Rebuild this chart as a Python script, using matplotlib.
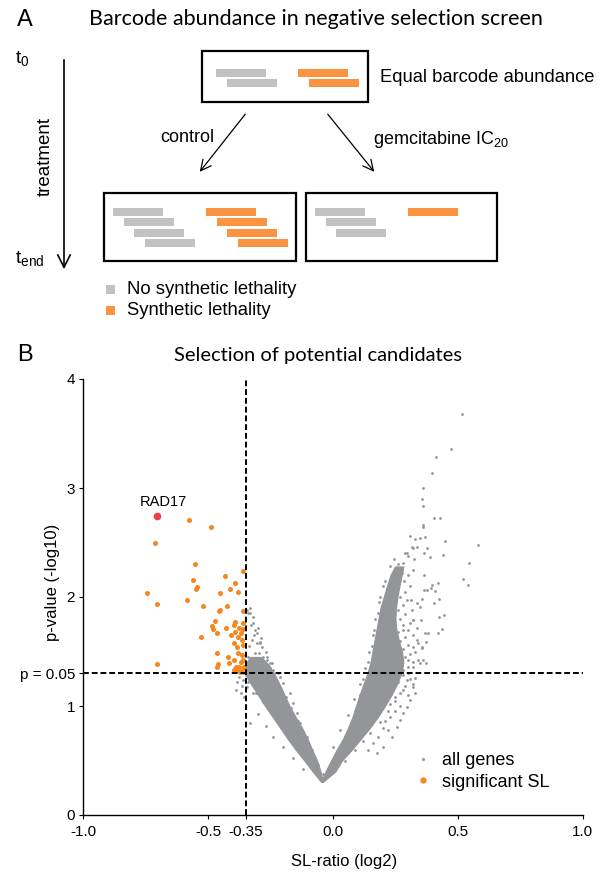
import math
import matplotlib
matplotlib.use('Agg')
import matplotlib.pyplot as plt
from matplotlib.patches import Rectangle, FancyArrowPatch
from matplotlib.lines import Line2D

plt.rcParams['font.family'] = ['Liberation Sans', 'DejaVu Sans']
plt.rcParams['mathtext.default'] = 'regular'

# ---------------- Panel A data (barcode copies per group) ----------------
groups = ['t0', 'control', 'gemcitabine']
no_sl_counts = [2, 4, 3]
sl_counts = [2, 4, 1]
legend_labels_a = ['No synthetic lethality', 'Synthetic lethality']

# ---------------- Panel B data ----------------
sl_threshold = -0.35
p_threshold = 0.05
xticks = [-1.0, -0.5, -0.35, 0.0, 0.5, 1.0]
xtick_labels = ['-1.0', '-0.5', '-0.35', '0.0', '0.5', '1.0']
yticks = [0, 1, 2, 3, 4]

rad17_x = [-0.704]
rad17_y = [2.740]

sl_x = [-0.578, -0.489, -0.714, -0.553, -0.359, -0.433, -0.562, -0.394, -0.543, -0.549,
        -0.411, -0.379, -0.454, -0.744, -0.585, -0.704, -0.521, -0.423, -0.453, -0.457,
        -0.359, -0.473, -0.392, -0.359, -0.486, -0.479, -0.465, -0.398, -0.378, -0.394,
        -0.361, -0.428, -0.529, -0.409, -0.382, -0.369, -0.363, -0.398, -0.384, -0.361,
        -0.465, -0.382, -0.422, -0.363, -0.398, -0.705, -0.459, -0.465, -0.418, -0.369,
        -0.359, -0.388, -0.375, -0.398, -0.384, -0.363, -0.358, -0.373]
sl_y = [2.709, 2.639, 2.498, 2.306, 2.238, 2.193, 2.153, 2.125, 2.092, 2.073,
        2.073, 2.046, 2.040, 2.037, 1.970, 1.933, 1.920, 1.914, 1.884, 1.871,
        1.874, 1.780, 1.774, 1.765, 1.737, 1.703, 1.667, 1.743, 1.712, 1.682,
        1.709, 1.712, 1.636, 1.651, 1.636, 1.667, 1.606, 1.575, 1.539, 1.560,
        1.483, 1.483, 1.453, 1.468, 1.422, 1.385, 1.385, 1.361, 1.391, 1.407,
        1.422, 1.361, 1.361, 1.330, 1.330, 1.330, 1.361, 1.315]

# dense core of the gene cloud (envelope of the two arms)
left_core_y = [0.305, 0.40, 0.50, 0.60, 0.70, 0.80, 0.90, 1.00, 1.10, 1.20, 1.30, 1.38, 1.45]
left_core_xmin = [-0.048, -0.082, -0.115, -0.150, -0.182, -0.212, -0.242, -0.272, -0.300, -0.328, -0.355, -0.352, -0.332]
left_core_xmax = [-0.040, -0.050, -0.064, -0.084, -0.102, -0.124, -0.150, -0.174, -0.194, -0.214, -0.236, -0.258, -0.288]

right_core_y = [0.305, 0.40, 0.50, 0.60, 0.70, 0.80, 0.90, 1.00, 1.10, 1.20, 1.30, 1.40, 1.50,
                1.60, 1.70, 1.80, 1.90, 2.00, 2.10, 2.20, 2.28]
right_core_xmin = [-0.048, -0.030, -0.008, 0.015, 0.040, 0.060, 0.078, 0.092, 0.106, 0.122, 0.138,
                   0.150, 0.158, 0.166, 0.174, 0.182, 0.190, 0.203, 0.216, 0.230, 0.248]
right_core_xmax = [-0.040, 0.010, 0.036, 0.076, 0.112, 0.148, 0.180, 0.208, 0.234, 0.256, 0.274,
                   0.282, 0.276, 0.264, 0.254, 0.250, 0.252, 0.258, 0.266, 0.275, 0.282]

# individual genes outside the dense core
gene_x = [0.517, 0.473, 0.412, 0.395, 0.359, 0.358, 0.362, 0.405, 0.429, 0.359, 0.361, 0.580,
          0.450, 0.440, 0.545, 0.521, 0.541, 0.310, 0.329, 0.347, 0.369, 0.335, 0.322, 0.288,
          0.378, 0.366, 0.389, 0.326, 0.302, 0.363, 0.420, 0.393, 0.366, 0.410, 0.426, 0.403,
          0.356, 0.443, 0.426, 0.437, 0.420, 0.381, 0.373, 0.353, 0.319, 0.338, 0.311, 0.315,
          0.356, 0.373, 0.342, 0.322, 0.329, 0.210, 0.221, 0.234, 0.261, 0.275, 0.282, 0.295,
          0.315,
          0.295, 0.321, 0.308, 0.281, 0.255, 0.235, 0.202, 0.175, 0.268, 0.295, 0.328, 0.348,
          0.361, 0.355, 0.368, 0.321, 0.348, 0.295, 0.375, 0.395, 0.321, 0.302, 0.335, 0.281,
          0.308,
          0.000, 0.030, 0.060, 0.085, 0.110, 0.130, 0.145, 0.160, 0.170, 0.185, 0.200,
          0.050, 0.090, 0.120, 0.150, 0.190, 0.220, 0.250, 0.280, 0.300,
          0.230, 0.250, 0.270, 0.240, 0.290, 0.260, 0.310, 0.280, 0.300, 0.320, 0.270, 0.250,
          0.230, 0.210, 0.200, 0.220, 0.180, 0.160, 0.140,
          0.280, 0.300, 0.320, 0.290, 0.310, 0.330, 0.280, 0.300, 0.340, 0.270, 0.290, 0.320,
          0.260, 0.300, 0.335, 0.280, 0.270, 0.290, 0.260, 0.280, 0.270, 0.290, 0.310, 0.300,
          0.320, 0.285,
          0.040, 0.070, 0.090, 0.110, 0.120, 0.140, 0.155, 0.165, 0.180, 0.190, 0.210, 0.230,
          0.245, 0.260,
          -0.332, -0.339, -0.321, -0.329, -0.312, -0.325, -0.305, -0.292, -0.285, -0.295,
          -0.279, -0.265, -0.272, -0.254, -0.245, -0.258, -0.312, -0.319, -0.299, -0.285,
          -0.332,
          -0.212, -0.199, -0.172, -0.159, -0.145, -0.132, -0.105, -0.085, -0.239, -0.252,
          -0.265, -0.292, -0.305, -0.319, -0.332, -0.345,
          -0.345, -0.359, -0.319, -0.332, -0.300, -0.270, -0.240, -0.200, -0.160, -0.120,
          -0.375, -0.385, -0.390, -0.370,
          -0.070, -0.100, -0.130, -0.160, -0.190, -0.220, -0.250, -0.280, -0.310, -0.340,
          -0.360, -0.365, -0.355,
          -0.040, -0.060, -0.080, -0.100, -0.120, -0.140, -0.170, -0.190, -0.210, -0.230,
          -0.220, -0.250, -0.270, -0.290, -0.300, -0.315, -0.335, -0.340, -0.325]
gene_y = [3.679, 3.355, 3.284, 3.138, 2.997, 2.902, 2.832, 2.722, 2.722, 2.661, 2.640, 2.477,
          2.517, 2.385, 2.312, 2.162, 2.110, 2.563, 2.532, 2.544, 2.554, 2.462, 2.447, 2.407,
          2.447, 2.401, 2.370, 2.346, 2.376, 2.202, 2.125, 2.079, 2.064, 2.058, 1.979, 1.942,
          1.979, 1.835, 1.820, 1.703, 1.667, 1.667, 1.590, 1.789, 1.789, 1.942, 1.972, 1.880,
          1.529, 1.391, 1.422, 1.361, 1.254, 1.972, 1.911, 2.049, 2.125, 2.217, 2.309, 2.401,
          2.462,
          1.239, 1.178, 1.055, 0.933, 0.811, 0.719, 0.627, 0.566, 0.872, 0.994, 1.117, 1.392,
          1.422, 1.545, 1.667, 1.789, 1.911, 1.972, 2.064, 2.110, 1.545, 1.422, 1.606, 1.697,
          1.758,
          0.620, 0.780, 0.920, 1.060, 1.200, 1.350, 1.500, 1.650, 1.800, 1.950, 2.100,
          0.500, 0.600, 0.680, 0.750, 0.850, 0.950, 1.050, 1.150, 1.300,
          1.020, 1.080, 1.120, 1.150, 1.180, 1.220, 1.250, 1.280, 1.100, 1.200, 1.000, 0.950,
          0.900, 0.860, 0.800, 0.780, 0.720, 0.660, 0.600,
          1.330, 1.360, 1.400, 1.450, 1.480, 1.500, 1.520, 1.560, 1.580, 1.600, 1.630, 1.650,
          1.680, 1.700, 1.720, 1.740, 1.800, 1.840, 1.880, 1.930, 2.000, 2.050, 2.100, 2.200,
          2.250, 2.150,
          0.660, 0.820, 0.950, 1.100, 1.250, 1.400, 1.550, 1.700, 1.850, 2.000, 2.150, 2.280,
          2.350, 2.300,
          1.896, 1.850, 1.820, 1.743, 1.697, 1.606, 1.575, 1.590, 1.545, 1.483,
          1.453, 1.422, 1.376, 1.346, 1.391, 1.300, 1.483, 1.391, 1.361, 1.315,
          1.330,
          1.269, 1.208, 1.117, 1.025, 0.933, 0.840, 0.719, 0.597, 1.331, 1.392,
          1.453, 1.575, 1.667, 1.758, 1.850, 1.881,
          1.178, 1.239, 1.117, 0.840, 0.930, 0.820, 0.720, 0.620, 0.520, 0.420,
          1.270, 1.220, 1.150, 1.120,
          0.420, 0.520, 0.600, 0.680, 0.760, 0.860, 0.950, 1.040, 1.120, 1.220,
          1.300, 1.180, 1.080,
          0.380, 0.460, 0.560, 0.640, 0.760, 0.860, 0.980, 1.080, 1.160, 1.240,
          1.300, 1.260, 1.500, 1.620, 1.720, 1.650, 1.550, 1.450, 1.420]

GRAY_BAR = '#c2c2c2'
ORANGE_BAR = '#fa9442'
GENE_GRAY = '#939599'
SL_ORANGE = '#f7861f'
RAD_RED = '#ee3f4c'

fig = plt.figure(figsize=(6.06, 8.75), dpi=100)

# ---------------- Panel A (schematic drawn in pixel space) ----------------
axA = fig.add_axes([0, 0, 1, 1])
axA.set_xlim(0, 606)
axA.set_ylim(875, 0)
axA.axis('off')

BAR_W, BAR_H, DX = 50, 8, 10.5


def draw_box(x0, y0, x1, y1, n_gray, n_orange, gx, ox, rows):
    axA.add_patch(Rectangle((x0, y0), x1 - x0, y1 - y0, fill=False, ec='black', lw=1.6))
    for i in range(n_gray):
        axA.add_patch(Rectangle((gx + i * DX, rows[i] - BAR_H / 2), BAR_W, BAR_H, fc=GRAY_BAR, ec='none'))
    for i in range(n_orange):
        axA.add_patch(Rectangle((ox + i * DX, rows[i] - BAR_H / 2), BAR_W, BAR_H, fc=ORANGE_BAR, ec='none'))


rows_bottom = [212, 222.3, 232.7, 243]
draw_box(202, 51, 368, 102, no_sl_counts[0], sl_counts[0], 216, 298, [72.5, 83])
draw_box(104, 193, 296, 261, no_sl_counts[1], sl_counts[1], 113, 206, rows_bottom)
draw_box(306, 193, 497, 261, no_sl_counts[2], sl_counts[2], 315, 408, rows_bottom)

axA.text(17, 20, 'A', fontsize=17, va='center', ha='left')
axA.text(89, 19, 'Barcode abundance in negative selection screen', fontsize=15.5,
         family=['Lato', 'DejaVu Sans'], va='center', ha='left')
axA.text(380, 77, 'Equal barcode abundance', fontsize=13.2, va='center', ha='left')
axA.text(15, 58, 't$_0$', fontsize=14, va='center', ha='left')
axA.text(15, 258, 't$_{end}$', fontsize=14, va='center', ha='left')
axA.text(45.5, 157, 'treatment', fontsize=13.5, rotation=90, va='center', ha='center')
axA.add_patch(FancyArrowPatch((64, 57), (64, 272), arrowstyle='->,head_length=6,head_width=3',
                              lw=1.2, color='black', mutation_scale=1.5))
axA.add_patch(FancyArrowPatch((247, 112), (198, 174), arrowstyle='->,head_length=5,head_width=2.5',
                              lw=0.9, color='black', mutation_scale=1.5))
axA.add_patch(FancyArrowPatch((326, 112), (376, 174), arrowstyle='->,head_length=5,head_width=2.5',
                              lw=0.9, color='black', mutation_scale=1.5))
axA.text(214, 138, 'control', fontsize=13, va='center', ha='right')
axA.text(373, 140, 'gemcitabine IC$_{20}$', fontsize=13, va='center', ha='left')

for yc, col, lab in zip([289, 310.5], [GRAY_BAR, ORANGE_BAR], legend_labels_a):
    axA.add_patch(Rectangle((106, yc - 4.5), 9, 9, fc=col, ec='none'))
    axA.text(127, yc, lab, fontsize=13.3, va='center', ha='left')

axA.text(17, 355, 'B', fontsize=17, va='center', ha='left')
axA.text(318, 355, 'Selection of potential candidates', fontsize=14.5,
         family=['Lato', 'DejaVu Sans'], va='center', ha='center')

# ---------------- Panel B ----------------
axB = fig.add_axes([83.3 / 606, 60 / 875, 499.4 / 606, 436 / 875])
axB.patch.set_alpha(0)
axB.set_xlim(-1.0, 1.0)
axB.set_ylim(0, 4)

axB.fill_betweenx(left_core_y, left_core_xmin, left_core_xmax, color=GENE_GRAY, lw=0.8, zorder=2)
axB.fill_betweenx(right_core_y, right_core_xmin, right_core_xmax, color=GENE_GRAY, lw=0.8, zorder=2)
axB.scatter(gene_x, gene_y, s=4.0, color=GENE_GRAY, lw=0, zorder=2)
axB.scatter(sl_x, sl_y, s=13, color=SL_ORANGE, lw=0, zorder=3)
axB.scatter(rad17_x, rad17_y, s=30, color=RAD_RED, lw=0, zorder=3)
axB.text(rad17_x[0] + 0.023, rad17_y[0] + 0.13, 'RAD17', fontsize=10.5, ha='center', va='center')

p_line = -math.log10(p_threshold)
axB.axhline(p_line, color='black', lw=1.4, ls=(0, (3, 1.5)), zorder=5)
axB.axvline(sl_threshold, color='black', lw=1.4, ls=(0, (3, 1.5)), zorder=5)

for s in ['top', 'right']:
    axB.spines[s].set_visible(False)
for s in ['left', 'bottom']:
    axB.spines[s].set_linewidth(1.0)
axB.set_xticks(xticks)
axB.set_xticklabels(xtick_labels)
axB.set_yticks(yticks + [p_line])
axB.set_yticklabels([str(v) for v in yticks] + ['p = 0.05'])
axB.tick_params(labelsize=11, length=3, width=0.8, pad=3)
axB.tick_params(axis='x', pad=4)
axB.set_xlabel('SL-ratio (log2)', fontsize=12, x=0.522, labelpad=11)
axB.set_ylabel('p-value (-log10)', fontsize=12, va='center')
axB.yaxis.set_label_coords(-0.061, 0.534)

handles = [Line2D([], [], marker='o', ls='', color=GENE_GRAY, markersize=2.2, mew=0),
           Line2D([], [], marker='o', ls='', color=SL_ORANGE, markersize=4.5, mew=0)]
axB.legend(handles, ['all genes', 'significant SL'], loc='lower left',
           bbox_to_anchor=(0.645, 0.035), frameon=False, fontsize=13,
           handlelength=1.0, handletextpad=0.5, labelspacing=0.25, borderpad=0)

fig.savefig('out.png', dpi=100)
